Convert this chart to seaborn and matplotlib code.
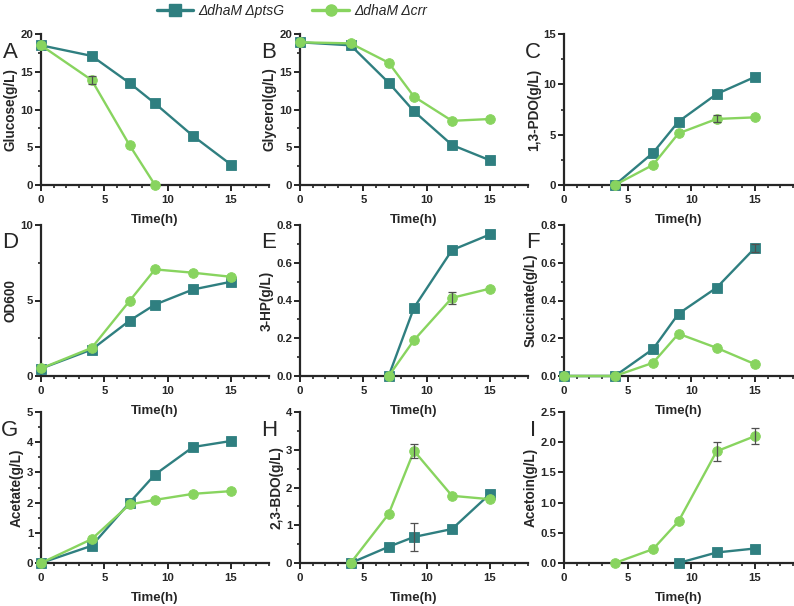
import numpy as np
import pandas as pd
import matplotlib
matplotlib.use("Agg")
import matplotlib.pyplot as plt
from matplotlib.ticker import MultipleLocator, AutoMinorLocator, FormatStrFormatter
from matplotlib.lines import Line2D
from matplotlib import font_manager as fm
import seaborn as sns

sns.set_style("ticks")
plt.rcParams['font.family'] = ['Liberation Sans', 'DejaVu Sans']

strains = ["ΔdhaM ΔptsG", "ΔdhaM Δcrr"]
colors = ["#2F7F80", "#88D45F"]

# ---- data (time, value, error) ----
glc_t_p = [0, 4, 7, 9, 12, 15]; glc_p = [18.5, 17.1, 13.5, 10.8, 6.5, 2.7]; glc_pe = [0, 0, 0, 0, 0, 0]
glc_t_c = [0, 4, 7, 9];          glc_c = [18.5, 13.9, 5.25, 0.0];          glc_ce = [0, 0.5, 0, 0]

gly_t_p = [0, 4, 7, 9, 12, 15]; gly_p = [18.9, 18.5, 13.55, 9.76, 5.3, 3.27]; gly_pe = [0]*6
gly_t_c = [0, 4, 7, 9, 12, 15]; gly_c = [18.9, 18.76, 16.2, 11.7, 8.5, 8.74]; gly_ce = [0]*6

pdo_t_p = [4, 7, 9, 12, 15]; pdo_p = [0, 3.2, 6.3, 9.04, 10.73]; pdo_pe = [0, 0, 0, 0, 0]
pdo_t_c = [4, 7, 9, 12, 15]; pdo_c = [0, 2.0, 5.13, 6.56, 6.72]; pdo_ce = [0, 0, 0, 0.35, 0]

od_t_p = [0, 4, 7, 9, 12, 15]; od_p = [0.49, 1.75, 3.67, 4.73, 5.73, 6.24]; od_pe = [0]*6
od_t_c = [0, 4, 7, 9, 12, 15]; od_c = [0.5, 1.86, 4.98, 7.06, 6.84, 6.57]; od_ce = [0]*6

hp_t_p = [7, 9, 12, 15]; hp_p = [0, 0.362, 0.667, 0.75]; hp_pe = [0, 0, 0, 0]
hp_t_c = [7, 9, 12, 15]; hp_c = [0, 0.19, 0.414, 0.463]; hp_ce = [0, 0, 0.03, 0]

suc_t_p = [0, 4, 7, 9, 12, 15]; suc_p = [0, 0, 0.143, 0.33, 0.468, 0.678]; suc_pe = [0, 0, 0, 0, 0, 0.02]
suc_t_c = [0, 4, 7, 9, 12, 15]; suc_c = [0, 0, 0.07, 0.224, 0.149, 0.063]; suc_ce = [0]*6

ace_t_p = [0, 4, 7, 9, 12, 15]; ace_p = [0, 0.57, 2.0, 2.93, 3.84, 4.04]; ace_pe = [0]*6
ace_t_c = [0, 4, 7, 9, 12, 15]; ace_c = [0, 0.79, 1.94, 2.09, 2.29, 2.38]; ace_ce = [0]*6

bdo_t_p = [4, 7, 9, 12, 15]; bdo_p = [0, 0.43, 0.69, 0.9, 1.83]; bdo_pe = [0, 0, 0.36, 0, 0]
bdo_t_c = [4, 7, 9, 12, 15]; bdo_c = [0, 1.3, 2.97, 1.78, 1.69]; bdo_ce = [0, 0, 0.18, 0, 0]

act_t_p = [9, 12, 15]; act_p = [0, 0.174, 0.24]; act_pe = [0, 0, 0]
act_t_c = [4, 7, 9, 12, 15]; act_c = [0, 0.23, 0.69, 1.85, 2.1]; act_ce = [0, 0, 0, 0.16, 0.13]

panels = [
    ("A", "Glucose(g/L)", (glc_t_p, glc_p, glc_pe), (glc_t_c, glc_c, glc_ce), 20, 5),
    ("B", "Glycerol(g/L)", (gly_t_p, gly_p, gly_pe), (gly_t_c, gly_c, gly_ce), 20, 5),
    ("C", "1,3-PDO(g/L)", (pdo_t_p, pdo_p, pdo_pe), (pdo_t_c, pdo_c, pdo_ce), 15, 5),
    ("D", "OD600", (od_t_p, od_p, od_pe), (od_t_c, od_c, od_ce), 10, 5),
    ("E", "3-HP(g/L)", (hp_t_p, hp_p, hp_pe), (hp_t_c, hp_c, hp_ce), 0.8, 0.2),
    ("F", "Succinate(g/L)", (suc_t_p, suc_p, suc_pe), (suc_t_c, suc_c, suc_ce), 0.8, 0.2),
    ("G", "Acetate(g/L)", (ace_t_p, ace_p, ace_pe), (ace_t_c, ace_c, ace_ce), 5, 1),
    ("H", "2,3-BDO(g/L)", (bdo_t_p, bdo_p, bdo_pe), (bdo_t_c, bdo_c, bdo_ce), 4, 1),
    ("I", "Acetoin(g/L)", (act_t_p, act_p, act_pe), (act_t_c, act_c, act_ce), 2.5, 0.5),
]

fig = plt.figure(figsize=(7.94, 6.06), dpi=100)
lefts = [41, 300, 564]
tops = [34, 225, 412]
W, H = 228, 151
FW, FH = 794, 606
markers = {strains[0]: "s", strains[1]: "o"}
palette = {strains[0]: colors[0], strains[1]: colors[1]}

for i, (letter, ylabel, sp, sc, ymax, ystep) in enumerate(panels):
    r, c = divmod(i, 3)
    l = lefts[c]; t = tops[r]
    w = W if c < 2 else FW - l - 1
    ax = fig.add_axes([l / FW, 1 - (t + H) / FH, w / FW, H / FH])
    ax.patch.set_alpha(0)
    df = pd.concat([
        pd.DataFrame({"t": sp[0], "v": sp[1], "e": sp[2], "strain": strains[0]}),
        pd.DataFrame({"t": sc[0], "v": sc[1], "e": sc[2], "strain": strains[1]}),
    ], ignore_index=True)
    sns.lineplot(data=df, x="t", y="v", hue="strain", style="strain",
                 hue_order=strains, style_order=strains,
                 palette=palette, markers=markers, dashes=False,
                 markersize=7, markeredgewidth=0.6, linewidth=1.7,
                 ax=ax, legend=False, zorder=3)
    for ln in list(ax.lines):
        ln.set_clip_on(False)
        ln.set_markeredgecolor(ln.get_color())
    for s, sub in df.groupby("strain"):
        e = np.array(sub["e"])
        if e.max() > 0:
            m = e > 0
            ax.errorbar(np.array(sub["t"])[m], np.array(sub["v"])[m], yerr=e[m], fmt="none",
                        ecolor="#505050", elinewidth=0.9, capsize=2.8, capthick=0.9, zorder=5)
    ax.set_xlim(0, 18)
    ax.set_ylim(0, ymax)
    ax.xaxis.set_major_locator(MultipleLocator(5))
    ax.xaxis.set_minor_locator(MultipleLocator(1))
    ax.yaxis.set_major_locator(MultipleLocator(ystep))
    if letter != "I":
        ax.yaxis.set_minor_locator(AutoMinorLocator(2))
    for sname in ["top", "right"]:
        ax.spines[sname].set_visible(False)
    for sname in ["left", "bottom"]:
        ax.spines[sname].set_linewidth(1.6)
    ax.tick_params(which="major", length=4, width=1.4, labelsize=8.2)
    ax.tick_params(axis="x", which="major", pad=3.5)
    ax.tick_params(axis="y", which="major", pad=1.5)
    ax.tick_params(which="minor", length=2.5, width=1.2)
    if ymax < 1 or letter == "I":
        ax.yaxis.set_major_formatter(FormatStrFormatter("%.1f"))
    for lab in ax.get_xticklabels() + ax.get_yticklabels():
        lab.set_fontweight("bold")
    ax.set_xlabel("Time(h)", fontsize=9.5, fontweight="bold", labelpad=6)
    ax.set_ylabel(ylabel, fontsize=9.8, fontweight="bold", labelpad=2)
    fig.text((l - 31) / FW, 1 - (t + 18) / FH, letter, fontsize=16, ha="center", va="center")

names = {f.name for f in fm.fontManager.ttflist}
if "Liberation Sans Narrow" in names:
    leg_prop = {"family": "Liberation Sans Narrow", "style": "italic", "size": 11.5}
else:
    leg_prop = {"family": "Liberation Sans", "style": "italic", "size": 10}

handles = [Line2D([], [], color=colors[0], marker="s", markersize=9, linewidth=2.4),
           Line2D([], [], color=colors[1], marker="o", markersize=8, linewidth=2.4)]
fig.legend(handles, strains, loc="center", bbox_to_anchor=(292 / FW, 1 - 11 / FH),
           ncol=2, frameon=False, handlelength=2.6, columnspacing=2.0, handletextpad=0.4,
           prop=leg_prop)

fig.savefig("out.png", dpi=100)
